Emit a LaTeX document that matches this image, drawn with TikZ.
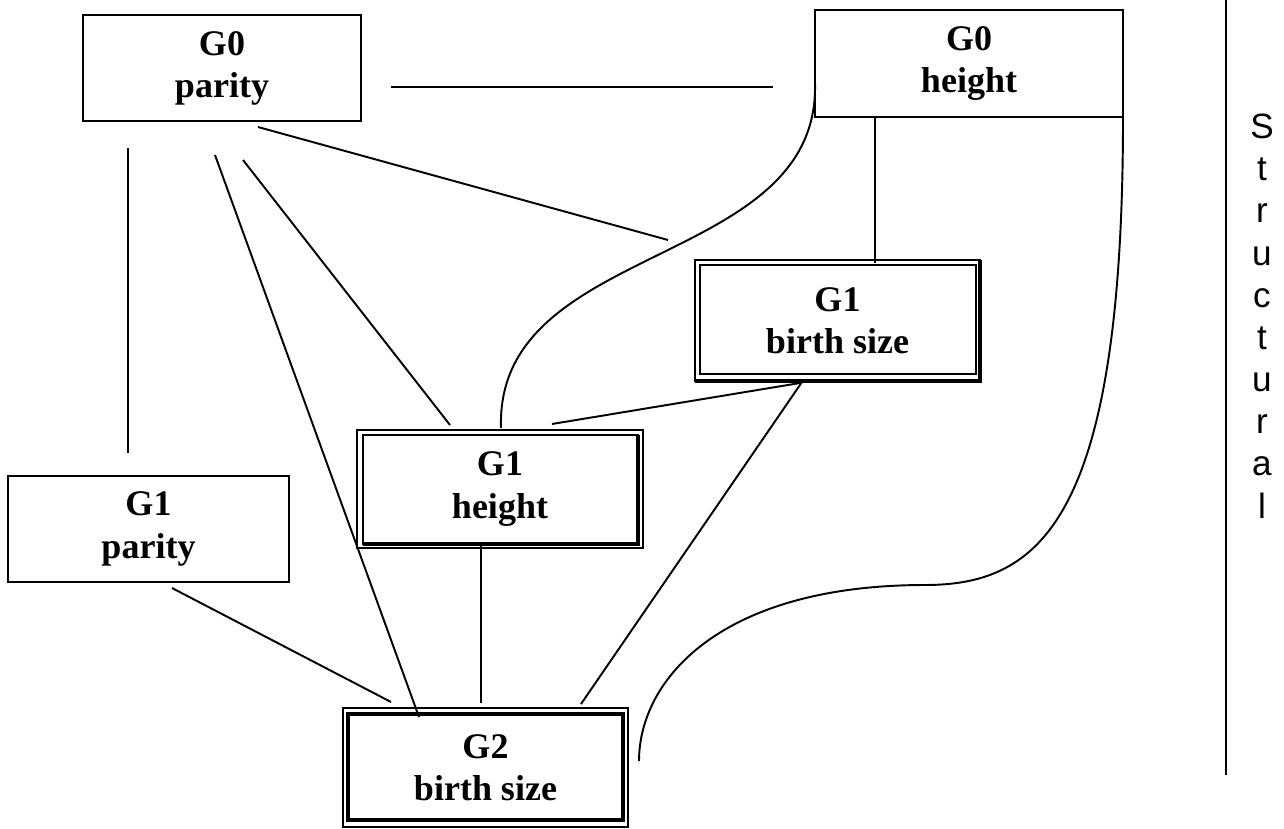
\documentclass[tikz,border=0pt]{standalone}
\usepackage{fontspec}
\setmainfont{Liberation Serif}
\setsansfont{Liberation Sans}

\begin{document}
\begin{tikzpicture}
    [ x=0.02cm, y=-0.02cm
    , box/.style={draw,shape=rectangle,inner sep=0pt,outer sep=0pt,line width=1.1pt,
                  align=center,font=\fontsize{20.5}{24}\selectfont\bfseries}
    , link/.style={line width=1.1pt}
    , frame/.style={line width=1.1pt}
    , heavy/.style={line width=2.6pt}
    , label/.style={align=center,font=\fontsize{20}{24}\selectfont\sffamily}
    ]
    \useasboundingbox (0,0) rectangle (1284,828);

    % variables
    \node [box, minimum width=5.56cm, minimum height=2.12cm] (g0par) at (222,68)    {G0\\parity};
    \node [box, minimum width=6.16cm, minimum height=2.14cm] (g0hgt) at (969,63.5)  {G0\\height};
    \node [box, minimum width=5.62cm, minimum height=2.12cm] (g1par) at (148.5,529) {G1\\parity};
    \node [box, minimum width=5.70cm, minimum height=2.42cm] (g1bs)  at (837.5,320.5) {G1\\birth size};
    \node [box, minimum width=5.72cm, minimum height=2.36cm] (g1hgt) at (500,489)   {G1\\height};
    \node [box, minimum width=5.70cm, minimum height=2.38cm] (g2bs)  at (485.5,767.5) {G2\\birth size};

    % inner frames
    \draw [frame] ([shift={(5,5)}]g1bs.north west) rectangle ([shift={(-4,-7)}]g1bs.south east);
    \draw [heavy] (g1bs.north east) -- (g1bs.south east) -- (g1bs.south west);

    \draw [frame] ([shift={(6,5)}]g1hgt.north west) rectangle ([shift={(-5,-4)}]g1hgt.south east);
    \draw [heavy] ([shift={(-5,5)}]g1hgt.north east) -- ([shift={(-5,-4)}]g1hgt.south east)
                  -- ([shift={(6,-4)}]g1hgt.south west);

    \draw [heavy] ([shift={(5,6)}]g2bs.north west) rectangle ([shift={(-5,-7)}]g2bs.south east);

    % free ends
    \coordinate (a1) at (391,87);   \coordinate (a2) at (773,87);
    \coordinate (b1) at (128,148);  \coordinate (b2) at (128,453);
    \coordinate (c1) at (215,155);  \coordinate (c2) at (419,717);
    \coordinate (d1) at (243,160);  \coordinate (d2) at (450,425);
    \coordinate (e1) at (258,127);  \coordinate (e2) at (668,240);
    \coordinate (f1) at (875,117);  \coordinate (f2) at (875,263);
    \coordinate (h1) at (800,383);  \coordinate (h2) at (552,424);
    \coordinate (i1) at (802,382);  \coordinate (i2) at (581,704);
    \coordinate (j1) at (481,542);  \coordinate (j2) at (481,703);
    \coordinate (k1) at (172,588);  \coordinate (k2) at (391,702);
    \coordinate (m1) at (501,428);  \coordinate (m2) at (815,83);
    \coordinate (n1) at (1123,117); \coordinate (n2) at (925,585); \coordinate (n3) at (639,761);

    % links
    \draw [link] (a1) -- (a2);
    \draw [link] (b1) -- (b2);
    \draw [link] (c1) -- (c2);
    \draw [link] (d1) -- (d2);
    \draw [link] (e1) -- (e2);
    \draw [link] (f1) -- (f2);
    \draw [link] (h1) -- (h2);
    \draw [link] (i1) -- (i2);
    \draw [link] (j1) -- (j2);
    \draw [link] (k1) -- (k2);
    \draw [link] (m1) .. controls (495,240) and (820,270) .. (m2);
    \draw [link] (n1) .. controls (1123,520) and (1040,585) .. (n2)
                      .. controls (720,585) and (639,680) .. (n3);

    % side label
    \coordinate (r1) at (1226,0); \coordinate (r2) at (1226,775);
    \draw [link] (r1) -- (r2);
    \node [label] (side) at (1262,316) {S\\t\\r\\u\\c\\t\\u\\r\\a\\l};
\end{tikzpicture}
\end{document}
